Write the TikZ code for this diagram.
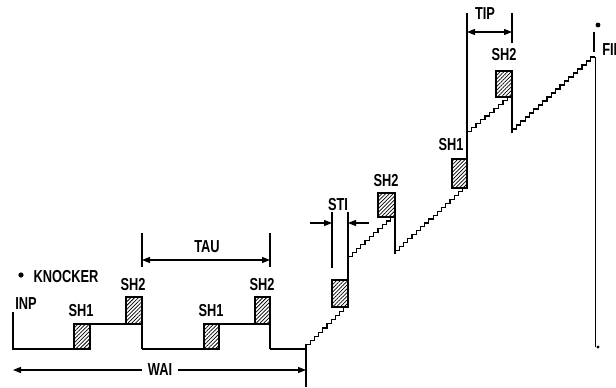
\documentclass[tikz,border=0pt]{standalone}
\usepackage{fontspec}
\setmainfont{Liberation Sans}[FakeStretch=0.74]
\usetikzlibrary{arrows.meta,patterns.meta}
\newcommand{\stairs}[5]{%
  \draw[stair] (#1,#2) \foreach \k in {1,...,#5}{ -- ++(0,{(#4-#2)/#5}) -- ++({(#3-#1)/#5},0)};}

\begin{document}
\begin{tikzpicture}[x=0.75pt, y=-0.75pt,
  font=\bfseries\fontsize{13}{14}\selectfont,
  lbl/.style={inner sep=0pt},
  sig/.style={line width=2.2pt},
  lead/.style={line width=0.9pt},
  stair/.style={line width=0.9pt},
  shbox/.style={draw, line width=0.9pt,
                pattern={Lines[angle=45,distance=2pt,line width=0.55pt]}},
  dim/.style={{Triangle[length=6pt,width=4.5pt]}-{Triangle[length=6pt,width=4.5pt]}, line width=0.9pt},
  arr/.style={-{Triangle[length=6pt,width=4.5pt]}, line width=0.9pt},
]
\useasboundingbox (0,0) rectangle (616,387);
\foreach \xa/\ya/\xb/\yb in {74/324/90/349, 126/297/142/324, 204/324/219/349,
  255/297/270/324, 332/280/348/307, 378/193/395/217, 452/159/467/188, 496/71/512/97}
  \draw[shbox] (\xa,\ya) rectangle (\xb,\yb);
\draw[sig] (13,349) -- (90,349) (90,324) -- (142,324) (142,349) -- (219,349)
  (219,324) -- (270,324) (270,349) -- (306,349);
\draw[lead] (142,324) -- (142,349) (270,324) -- (270,349);
\stairs{306}{349}{348}{307}{10}
\stairs{348}{260}{395}{217}{11}
\stairs{395}{254}{467}{188}{17}
\stairs{467}{135}{512}{97}{10}
\stairs{512}{133}{595}{57}{19}
\draw[lead] (395,217) -- (395,254) (512,97) -- (512,133);
\draw[lead] (13,312) -- (13,350);
\draw[lead] (142,233) -- (142,267) (270,233) -- (270,267);
\draw[lead] (306,349) -- (306,387);
\draw[lead] (332,212) -- (332,268) (348,212) -- (348,280);
\draw[lead] (467,13) -- (467,159) (512,13) -- (512,43);
\draw[lead] (594,32) -- (594,52);
\draw[line width=0.7pt] (595,57) -- (595,347);
\fill (598,25) circle (2.4);
\fill (598,347) circle (1.6);
\fill (21,275) circle (2.6);
\coordinate (tauL) at (142,260);
\coordinate (tauR) at (270,260);
\coordinate (waiL) at (13,370);
\coordinate (waiR) at (306,370);
\coordinate (stiL) at (332,223);
\coordinate (stiR) at (348,223);
\coordinate (stiLo) at (310,223);
\coordinate (stiRo) at (369,223);
\coordinate (tipL) at (467,32);
\coordinate (tipR) at (512,32);
\node[lbl] (knocker) at (66,277) {KNOCKER};
\node[lbl] (inp) at (26,304) {INP};
\node[lbl] (sh1a) at (81,311) {SH1};
\node[lbl] (sh2a) at (133,285) {SH2};
\node[lbl] (sh1b) at (211,311) {SH1};
\node[lbl] (sh2b) at (262,285) {SH2};
\node[lbl] (sh2c) at (386,181) {SH2};
\node[lbl] (sh1d) at (451,145) {SH1};
\node[lbl] (sh2d) at (504,55) {SH2};
\node[lbl] (tau) at (207,247) {TAU};
\node[lbl] (sti) at (338,205) {STI};
\node[lbl] (tip) at (485,14) {TIP};
\node[lbl, anchor=west] (fin) at (602,50) {FIN};
\node[lbl, inner xsep=4pt] (wai) at (160,370) {WAI};
\draw[dim] (tauL) -- (tauR);
\draw[arr] (wai.west) -- (waiL);
\draw[arr] (wai.east) -- (waiR);
\draw[arr] (stiLo) -- (stiL);
\draw[arr] (stiRo) -- (stiR);
\draw[dim] (tipL) -- (tipR);
\end{tikzpicture}
\end{document}
